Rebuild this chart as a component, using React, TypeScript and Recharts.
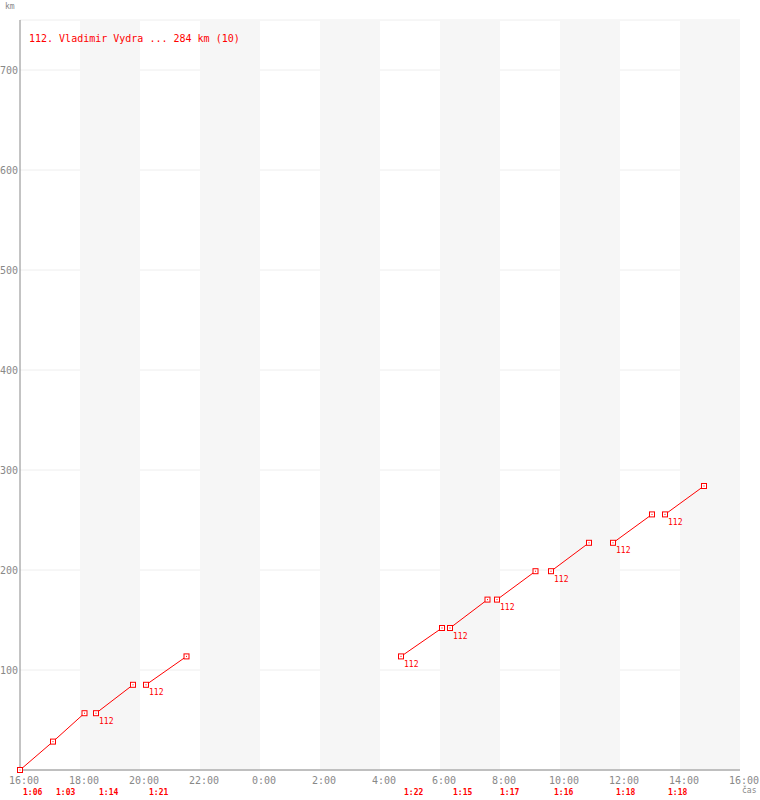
import React from "react";
import {
  CartesianGrid,
  Line,
  LineChart,
  ReferenceArea,
  ReferenceDot,
  XAxis,
  YAxis,
} from "recharts";

const rider = "112";
const riderName = "Vladimir Vydra";
const totalKm = 284;
const lapCount = 10;

// start of each lap (clock time) and its duration
const lapStart = ["16:00", "17:06", "18:32", "20:12", "04:42", "06:20", "07:54", "09:42", "11:46", "13:30"];
const lapTime = ["1:06", "1:03", "1:14", "1:21", "1:22", "1:15", "1:17", "1:16", "1:18", "1:18"];
const lapKm = [28.4, 56.8, 85.2, 113.6, 142, 170.4, 198.8, 227.2, 255.6, 284];

const hourLabels = ["16:00", "18:00", "20:00", "22:00", "0:00", "2:00", "4:00", "6:00", "8:00", "10:00", "12:00", "14:00", "16:00"];
const kmTicks = [100, 200, 300, 400, 500, 600, 700];
const shadedBands = [
  ["18:00", "20:00"],
  ["22:00", "0:00"],
  ["2:00", "4:00"],
  ["6:00", "8:00"],
  ["10:00", "12:00"],
  ["14:00", "16:00"],
];

const RED = "#ff0000";
const GREY = "#888888";
const MONO = "'DejaVu Sans Mono', monospace";

// hours elapsed since the 16:00 start
const toHours = (clock: string, end = false) => {
  const [h, m] = clock.split(":").map(Number);
  let mins = (h * 60 + m - 16 * 60 + 1440) % 1440;
  if (end && mins === 0) mins = 1440;
  return mins / 60;
};
const durHours = (d: string) => {
  const [h, m] = d.split(":").map(Number);
  return h + m / 60;
};

type Pt = { t: number; km: number | null; mark?: boolean };

const data: Pt[] = [];
let prevEnd = -1;
let prevKm = 0;
lapStart.forEach((s, i) => {
  const t0 = toHours(s);
  const t1 = t0 + durHours(lapTime[i]);
  if (Math.abs(t0 - prevEnd) > 0.01) {
    if (data.length) data.push({ t: (prevEnd + t0) / 2, km: null });
    data.push({ t: t0, km: prevKm, mark: i > 0 });
  }
  data.push({ t: t1, km: lapKm[i] });
  prevEnd = t1;
  prevKm = lapKm[i];
});

const Marker = (props: any) => {
  const { cx, cy, payload, index } = props;
  if (cy == null || payload.km == null) return <g key={index} />;
  return (
    <g key={index}>
      <rect x={cx - 2.5} y={cy - 2.5} width={5} height={5} fill="#fff" stroke={RED} strokeWidth={1} />
      <rect x={cx - 0.5} y={cy - 0.5} width={1} height={1} fill={RED} />
      {payload.mark && (
        <text x={cx + 3} y={cy + 10.5} fill={RED} fontSize={8} fontFamily={MONO}>
          {rider}
        </text>
      )}
    </g>
  );
};

const XTick = (props: any) => {
  const { x, y, index } = props;
  return (
    <text x={x + 4} y={y} dy={6} textAnchor="middle" fill={GREY} fontSize={10} fontFamily={MONO}>
      {hourLabels[index]}
    </text>
  );
};

const YTick = (props: any) => {
  const { x, y, payload } = props;
  return (
    <text x={x} y={y} dy={4} textAnchor="end" fill={GREY} fontSize={10} fontFamily={MONO}>
      {payload.value}
    </text>
  );
};

export default function App() {
  return (
    <div style={{ position: "absolute", left: 0, top: 0, width: 760, height: 800, background: "#fff" }}>
      <LineChart width={760} height={800} data={data} margin={{ top: 20, right: 20, bottom: 0, left: 0 }}>
        {shadedBands.map(([a, b]) => (
          <ReferenceArea
            key={a}
            x1={toHours(a)}
            x2={toHours(b, true)}
            fill="#f6f6f6"
            fillOpacity={1}
            stroke="none"
          />
        ))}
        <CartesianGrid vertical={false} stroke="#eeeeee" />
        <XAxis
          dataKey="t"
          type="number"
          domain={[0, 24]}
          ticks={hourLabels.map((_, i) => i * 2)}
          tick={<XTick />}
          tickLine={false}
          tickSize={0}
          tickMargin={8}
          axisLine={{ stroke: GREY }}
          height={30}
          interval={0}
        />
        <YAxis
          type="number"
          domain={[0, 750]}
          ticks={kmTicks}
          tick={<YTick />}
          tickLine={false}
          tickSize={0}
          tickMargin={2}
          axisLine={{ stroke: GREY }}
          width={20}
          interval={0}
        />
        {lapStart.map((s, i) => (
          <ReferenceDot
            key={"lap" + i}
            x={toHours(s)}
            y={0}
            ifOverflow="visible"
            shape={(p: any) => (
              <text
                x={p.cx + 3}
                y={p.cy + 25}
                fill={RED}
                fontSize={8}
                fontWeight="bold"
                fontFamily={MONO}
              >
                {lapTime[i]}
              </text>
            )}
          />
        ))}
        <Line
          dataKey="km"
          stroke={RED}
          strokeWidth={1}
          dot={Marker}
          activeDot={false}
          connectNulls={false}
          isAnimationActive={false}
        />
      </LineChart>
      <svg width={760} height={800} style={{ position: "absolute", left: 0, top: 0, pointerEvents: "none" }}>
        <text x={5} y={9} fill={GREY} fontSize={8} fontFamily={MONO}>
          km
        </text>
        <text x={742} y={793} fill={GREY} fontSize={8} fontFamily={MONO}>
          čas
        </text>
        <text x={29} y={42} fill={RED} fontSize={10} fontFamily={MONO}>
          {`${rider}. ${riderName} ... ${totalKm} km (${lapCount})`}
        </text>
      </svg>
    </div>
  );
}
